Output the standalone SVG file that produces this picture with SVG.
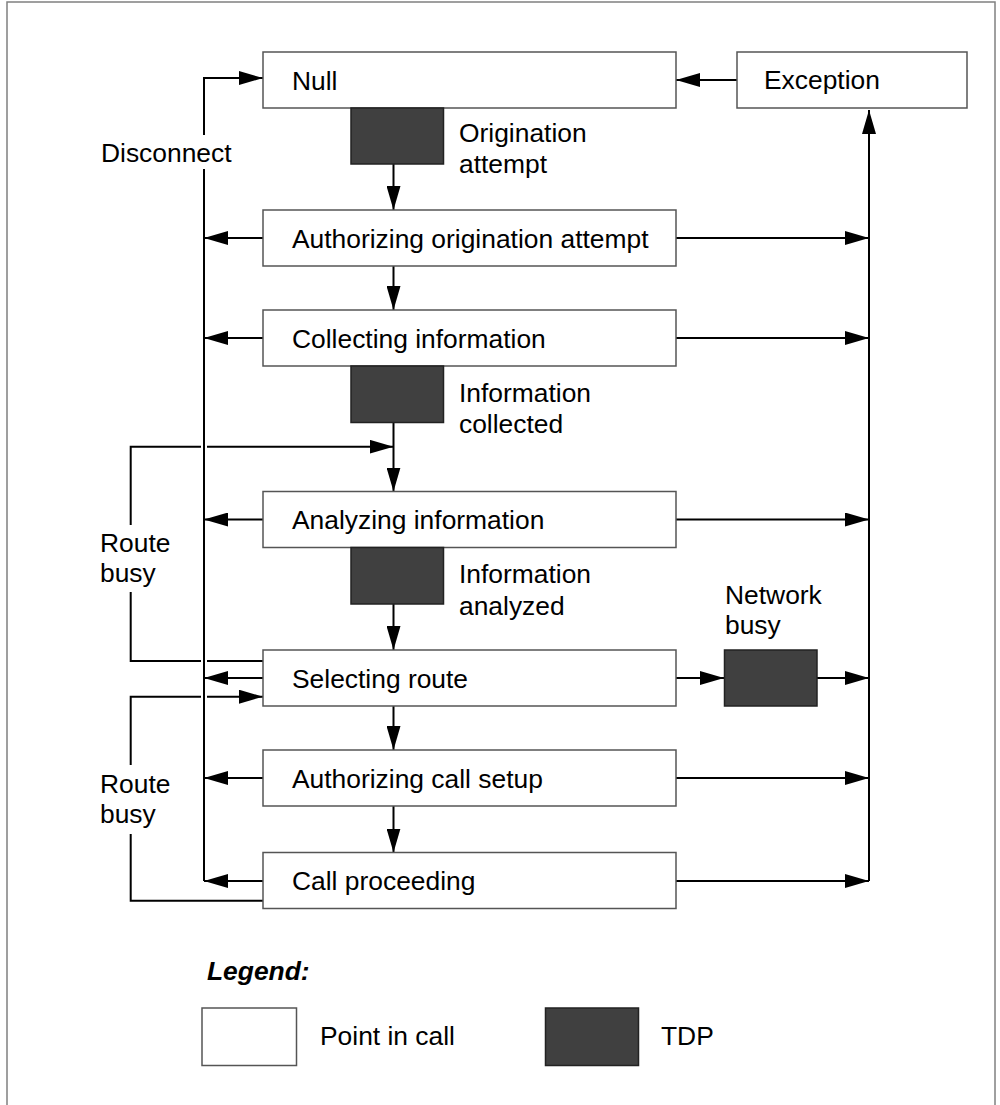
<svg xmlns="http://www.w3.org/2000/svg" width="1000" height="1105" viewBox="0 0 1000 1105">
<defs>
<marker id="ah" markerUnits="userSpaceOnUse" markerWidth="24" markerHeight="14" refX="24" refY="7" orient="auto">
<path d="M0,0 L24,7 L0,14 z" fill="#000"/>
</marker>
<style>
.pic{fill:#fff;stroke:#555;stroke-width:1.5}
.tdp{fill:#404040;stroke:#222;stroke-width:1.5}
.t{font-family:"Liberation Sans",Arial,sans-serif;font-size:26.4px;fill:#000}
.c{fill:none;stroke:#000;stroke-width:2}
.a{fill:none;stroke:#000;stroke-width:2;marker-end:url(#ah)}
</style>
</defs>
<rect x="0" y="0" width="1000" height="1105" fill="#fff"/>
<rect x="7" y="2" width="988" height="1120" fill="none" stroke="#808080" stroke-width="1.5"/>

<g id="connectors">
<path class="a" d="M204,135 V78 H263"/>
<path class="c" d="M204,169 V881"/>
<path class="a" d="M263,238 H204"/>
<path class="a" d="M263,338 H204"/>
<path class="a" d="M263,519.5 H204"/>
<path class="a" d="M263,678 H204"/>
<path class="a" d="M263,778 H204"/>
<path class="a" d="M263,881 H204"/>
<path class="a" d="M676,238 H869"/>
<path class="a" d="M676,338 H869"/>
<path class="a" d="M676,519.5 H869"/>
<path class="a" d="M676,678 H724"/>
<path class="a" d="M817,678 H869"/>
<path class="a" d="M676,778 H869"/>
<path class="a" d="M676,881 H869"/>
<path class="a" d="M869,881 V110"/>
<path class="a" d="M737,80 H676"/>
<path class="a" d="M393.5,164 V210"/>
<path class="a" d="M393.5,266 V310"/>
<path class="a" d="M393.5,422.5 V491.5"/>
<path class="a" d="M393.5,604 V650"/>
<path class="a" d="M393.5,706 V750"/>
<path class="a" d="M393.5,806 V852.5"/>
<path class="c" d="M263,661 H207"/>
<path class="c" d="M201,661 H130.7 V592"/>
<path class="c" d="M130.7,525 V446.7 H201"/>
<path class="a" d="M207,446.7 H393.5"/>
<path class="c" d="M263,900.7 H130.7 V834"/>
<path class="c" d="M130.7,765 V696.7 H201"/>
<path class="a" d="M207,696.7 H263"/>
</g>

<g id="null"><rect class="pic" x="263" y="52" width="413" height="56"/><text class="t" x="292" y="89.5">Null</text></g>
<g id="exception"><rect class="pic" x="737" y="52" width="230" height="56"/><text class="t" x="764" y="89">Exception</text></g>
<g id="tdp-origination"><rect class="tdp" x="351" y="108" width="92.5" height="56"/><text class="t" x="459" y="142">Origination</text><text class="t" x="459" y="173">attempt</text></g>
<g id="auth-orig"><rect class="pic" x="263" y="210" width="413" height="56"/><text class="t" x="292" y="247.5">Authorizing origination attempt</text></g>
<g id="collecting"><rect class="pic" x="263" y="310" width="413" height="56"/><text class="t" x="292" y="347.5">Collecting information</text></g>
<g id="tdp-collected"><rect class="tdp" x="351" y="366" width="92.5" height="56.5"/><text class="t" x="459" y="401.5">Information</text><text class="t" x="459" y="433">collected</text></g>
<g id="analyzing"><rect class="pic" x="263" y="491.5" width="413" height="56"/><text class="t" x="292" y="529">Analyzing information</text></g>
<g id="tdp-analyzed"><rect class="tdp" x="351" y="547.5" width="92.5" height="56.5"/><text class="t" x="459" y="582.5">Information</text><text class="t" x="459" y="614.5">analyzed</text></g>
<g id="selecting"><rect class="pic" x="263" y="650" width="413" height="56"/><text class="t" x="292" y="687.5">Selecting route</text></g>
<g id="tdp-network"><rect class="tdp" x="724.5" y="650" width="92.5" height="56"/><text class="t" x="725" y="604">Network</text><text class="t" x="725" y="634">busy</text></g>
<g id="auth-call"><rect class="pic" x="263" y="750" width="413" height="56"/><text class="t" x="292" y="787.5">Authorizing call setup</text></g>
<g id="proceeding"><rect class="pic" x="263" y="852.5" width="413" height="56"/><text class="t" x="292" y="890">Call proceeding</text></g>

<g id="labels">
<text class="t" x="101" y="161.5">Disconnect</text>
<text class="t" x="100" y="552">Route</text><text class="t" x="100" y="582">busy</text>
<text class="t" x="100" y="793">Route</text><text class="t" x="100" y="823">busy</text>
</g>

<g id="legend">
<text class="t" x="207" y="980" font-weight="bold" font-style="italic">Legend:</text>
<rect class="pic" x="202" y="1008" width="94.5" height="57.5"/>
<text class="t" x="320" y="1045">Point in call</text>
<rect class="tdp" x="545.5" y="1008" width="93" height="57.5"/>
<text class="t" x="661" y="1045">TDP</text>
</g>
</svg>
